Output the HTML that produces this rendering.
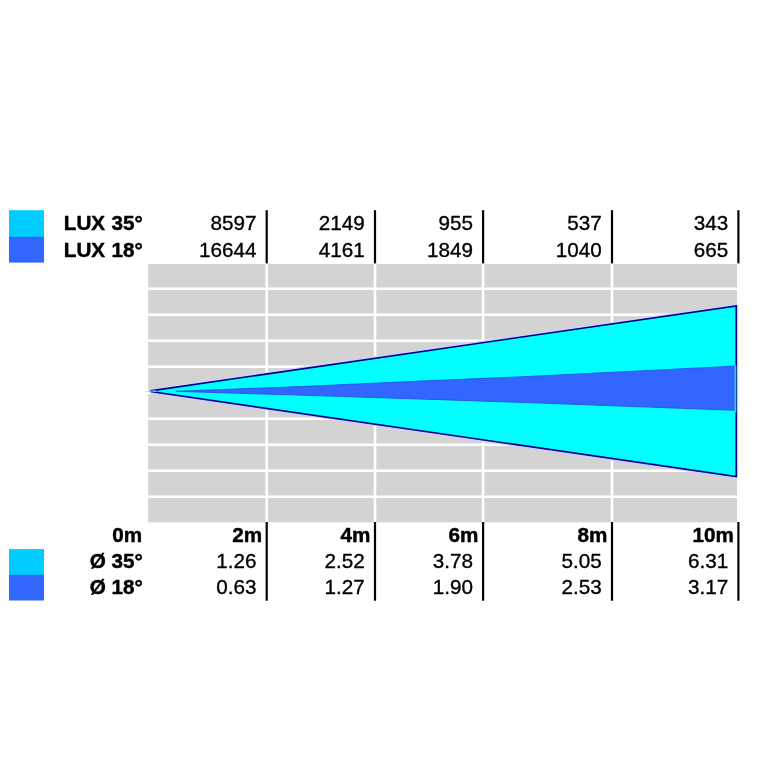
<!DOCTYPE html>
<html><head><meta charset="utf-8"><title>Beam chart</title>
<style>
html,body{margin:0;padding:0;background:#fff;}
body{width:766px;height:766px;overflow:hidden;}
svg{display:block;}
text{font-family:"Liberation Sans",Arial,Helvetica,sans-serif;font-size:21px;fill:#000;stroke:#000;stroke-width:0.35px;stroke-linejoin:round;}
.b{font-weight:bold;stroke-width:0.45px;}
.e{text-anchor:end;}
.w{word-spacing:0.6px;}
</style></head><body>
<svg width="766" height="766" viewBox="0 0 766 766">
<rect width="766" height="766" fill="#fff"/>
<rect x="9" y="210.2" width="35" height="27" fill="#00ccff"/>
<rect x="9" y="236.8" width="35" height="25.8" fill="#3366ff"/>
<rect x="9" y="549.1" width="35" height="26" fill="#00ccff"/>
<rect x="9" y="574.8" width="35" height="25.7" fill="#3366ff"/>
<rect x="148.2" y="264.0" width="588.8" height="258.29999999999995" fill="#d3d3d3"/>
<rect x="148.2" y="287.45" width="588.8" height="2.6" fill="#fff"/>
<rect x="148.2" y="313.45" width="588.8" height="2.6" fill="#fff"/>
<rect x="148.2" y="339.45" width="588.8" height="2.6" fill="#fff"/>
<rect x="148.2" y="365.45" width="588.8" height="2.6" fill="#fff"/>
<rect x="148.2" y="391.45" width="588.8" height="2.6" fill="#fff"/>
<rect x="148.2" y="417.45" width="588.8" height="2.6" fill="#fff"/>
<rect x="148.2" y="443.45" width="588.8" height="2.6" fill="#fff"/>
<rect x="148.2" y="469.45" width="588.8" height="2.6" fill="#fff"/>
<rect x="148.2" y="495.45" width="588.8" height="2.6" fill="#fff"/>
<rect x="265.40" y="264.0" width="2.6" height="258.29999999999995" fill="#fff"/>
<rect x="373.70" y="264.0" width="2.6" height="258.29999999999995" fill="#fff"/>
<rect x="481.80" y="264.0" width="2.6" height="258.29999999999995" fill="#fff"/>
<rect x="610.70" y="264.0" width="2.6" height="258.29999999999995" fill="#fff"/>
<path d="M150.5,390.84 L736.25,305.9 L736.25,476.5 L150.5,391.56" fill="none" stroke="#ccd0ff" stroke-width="4.0" stroke-linejoin="bevel"/>
<polygon points="148,391.2 736.25,305.9 736.25,476.5" fill="#00ffff"/>
<path d="M150.5,390.84 L736.25,305.9 L736.25,476.5 L150.5,391.56" fill="none" stroke="#00008c" stroke-width="1.6" stroke-linejoin="miter" stroke-miterlimit="12"/>
<polygon points="144.6,391.2 156,390.3 156,392.1" fill="#2ee0ff"/>
<polygon points="176,391.3 220,389.6 300,386.6 440,380.2 520,376.9 734.4,366.15 734.4,410.25 520,402.3 440,399.65 300,395.1 220,392.7" fill="#3366ff" stroke="#2454e6" stroke-width="0.9" stroke-linejoin="miter" stroke-miterlimit="30"/>
<rect x="734.5" y="365.7" width="1.7" height="46.8" fill="#4db8ff"/>
<rect x="736.2" y="365.7" width="0.8" height="46.8" fill="#0a5a8c"/>
<rect x="265.60" y="210.2" width="2.2" height="53.2" fill="#000"/>
<rect x="265.60" y="522" width="2.2" height="78.7" fill="#000"/>
<rect x="373.90" y="210.2" width="2.2" height="53.2" fill="#000"/>
<rect x="373.90" y="522" width="2.2" height="78.7" fill="#000"/>
<rect x="482.00" y="210.2" width="2.2" height="53.2" fill="#000"/>
<rect x="482.00" y="522" width="2.2" height="78.7" fill="#000"/>
<rect x="610.90" y="210.2" width="2.2" height="53.2" fill="#000"/>
<rect x="610.90" y="522" width="2.2" height="78.7" fill="#000"/>
<rect x="737.30" y="210.2" width="2.2" height="53.2" fill="#000"/>
<rect x="737.30" y="522" width="2.2" height="78.7" fill="#000"/>
<text class="b e w" transform="translate(142.70,230.00) scale(0.985,1)">LUX 35°</text>
<text class="b e w" transform="translate(142.70,256.50) scale(0.985,1)">LUX 18°</text>
<text class="b e" transform="translate(142.20,542.30) scale(0.985,1)">0m</text>
<text class="b e" transform="translate(142.80,568.00) scale(0.985,1)">Ø 35°</text>
<text class="b e" transform="translate(142.80,593.90) scale(0.985,1)">Ø 18°</text>
<text class="e" transform="translate(256.50,230.00) scale(0.985,1)">8597</text>
<text class="e" transform="translate(256.50,256.50) scale(0.985,1)">16644</text>
<text class="b e" transform="translate(262.10,542.30) scale(0.985,1)">2m</text>
<text class="e" transform="translate(256.50,568.20) scale(0.985,1)">1.26</text>
<text class="e" transform="translate(256.50,594.20) scale(0.985,1)">0.63</text>
<text class="e" transform="translate(364.80,230.00) scale(0.985,1)">2149</text>
<text class="e" transform="translate(364.80,256.50) scale(0.985,1)">4161</text>
<text class="b e" transform="translate(370.40,542.30) scale(0.985,1)">4m</text>
<text class="e" transform="translate(364.80,568.20) scale(0.985,1)">2.52</text>
<text class="e" transform="translate(364.80,594.20) scale(0.985,1)">1.27</text>
<text class="e" transform="translate(472.90,230.00) scale(0.985,1)">955</text>
<text class="e" transform="translate(472.90,256.50) scale(0.985,1)">1849</text>
<text class="b e" transform="translate(478.50,542.30) scale(0.985,1)">6m</text>
<text class="e" transform="translate(472.90,568.20) scale(0.985,1)">3.78</text>
<text class="e" transform="translate(472.90,594.20) scale(0.985,1)">1.90</text>
<text class="e" transform="translate(601.80,230.00) scale(0.985,1)">537</text>
<text class="e" transform="translate(601.80,256.50) scale(0.985,1)">1040</text>
<text class="b e" transform="translate(607.40,542.30) scale(0.985,1)">8m</text>
<text class="e" transform="translate(601.80,568.20) scale(0.985,1)">5.05</text>
<text class="e" transform="translate(601.80,594.20) scale(0.985,1)">2.53</text>
<text class="e" transform="translate(728.20,230.00) scale(0.985,1)">343</text>
<text class="e" transform="translate(728.20,256.50) scale(0.985,1)">665</text>
<text class="b e" transform="translate(733.80,542.30) scale(0.985,1)">10m</text>
<text class="e" transform="translate(728.20,568.20) scale(0.985,1)">6.31</text>
<text class="e" transform="translate(728.20,594.20) scale(0.985,1)">3.17</text>
</svg>
</body></html>
